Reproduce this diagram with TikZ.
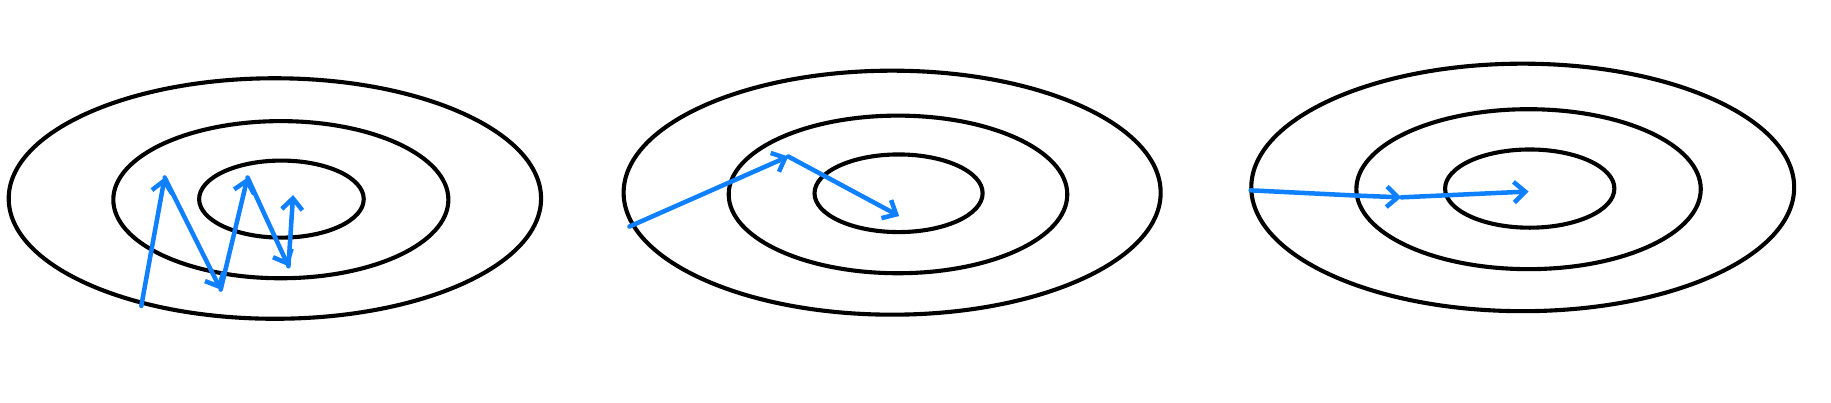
\documentclass[tikz,border=0pt]{standalone}
\usetikzlibrary{arrows.meta}
\definecolor{stepblue}{RGB}{15,128,255}
\begin{document}
\begin{tikzpicture}[x=0.02cm,y=-0.02cm,
  ring/.style={draw=black,line width=2pt},
  move/.style={draw=stepblue,line width=2.2pt,line cap=round,line join=round,
    -{Straight Barb[length=5.5pt,width=10pt,line width=2.2pt]}}]
\useasboundingbox[fill=white] (0,0) rectangle (1568,345);
% ---------- panel 1 ----------
\coordinate (c1o) at (235.4,170);
\coordinate (c1m) at (240.5,171);
\coordinate (c1i) at (241,170.5);
\draw[ring] (c1o) ellipse [x radius=4.56cm, y radius=2.06cm];
\draw[ring] (c1m) ellipse [x radius=2.87cm, y radius=1.346cm];
\draw[ring] (c1i) ellipse [x radius=1.41cm, y radius=0.66cm];
\coordinate (a0) at (121,262);
\coordinate (a1) at (141,152);
\coordinate (a2) at (189,248);
\coordinate (a3) at (212,152);
\coordinate (a4) at (247,228);
\coordinate (a5) at (251,167);
\draw[move] (a0) -- (a1);
\draw[move] (a1) -- (a2);
\draw[move] (a2) -- (a3);
\draw[move] (a3) -- (a4);
\draw[move] (a4) -- (a5);
% ---------- panel 2 ----------
\coordinate (c2o) at (764,165);
\coordinate (c2m) at (769,166.5);
\coordinate (c2i) at (769.5,165.5);
\draw[ring] (c2o) ellipse [x radius=4.6cm, y radius=2.09cm];
\draw[ring] (c2m) ellipse [x radius=2.9cm, y radius=1.35cm];
\draw[ring] (c2i) ellipse [x radius=1.44cm, y radius=0.665cm];
\coordinate (b0) at (539,194);
\coordinate (b1) at (675,134);
\coordinate (b2) at (770,185);
\draw[move] (b0) -- (b1);
\draw[move] (b1) -- (b2);
% ---------- panel 3 ----------
\coordinate (c3o) at (1304,160.5);
\coordinate (c3m) at (1309,162);
\coordinate (c3i) at (1310,161.5);
\draw[ring] (c3o) ellipse [x radius=4.65cm, y radius=2.12cm];
\draw[ring] (c3m) ellipse [x radius=2.95cm, y radius=1.37cm];
\draw[ring] (c3i) ellipse [x radius=1.45cm, y radius=0.67cm];
\coordinate (d0) at (1071,163);
\coordinate (dk) at (1162,167.5);
\coordinate (d1) at (1200,169);
\coordinate (d2) at (1309,164);
\draw[move] (d0) -- (dk) -- (d1);
\draw[move] (d1) -- (d2);
\end{tikzpicture}
\end{document}
